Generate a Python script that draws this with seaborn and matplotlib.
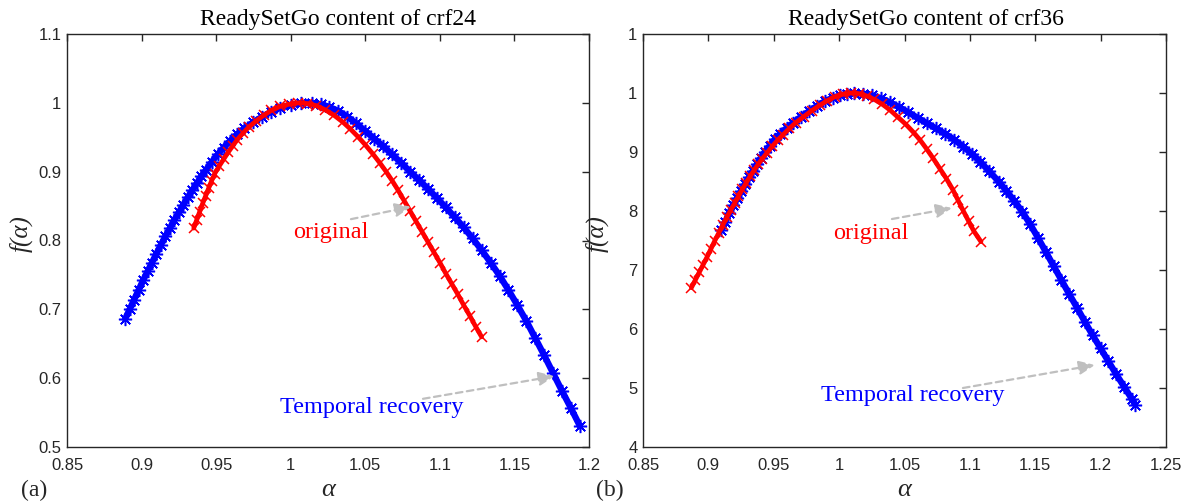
import numpy as np
import pandas as pd
import matplotlib
matplotlib.use("Agg")
import matplotlib.pyplot as plt
import seaborn as sns

sns.set_theme(style="white")
plt.rcParams['font.family'] = ['Liberation Sans', 'DejaVu Sans']

# ---------------- data ----------------
# panel (a): crf24
a24_blue_alpha = [0.889, 0.892, 0.895, 0.898, 0.901, 0.904, 0.907, 0.910, 0.913, 0.916,
                  0.919, 0.922, 0.925, 0.928, 0.931, 0.934, 0.937, 0.940, 0.943, 0.947,
                  0.951, 0.955, 0.959, 0.964, 0.969, 0.975, 0.981, 0.987, 0.993, 1.000,
                  1.007, 1.014, 1.020, 1.026, 1.032, 1.038, 1.044, 1.050, 1.056, 1.062,
                  1.068, 1.074, 1.080, 1.086, 1.092, 1.098, 1.104, 1.110, 1.116, 1.122,
                  1.128, 1.134, 1.140, 1.146, 1.152, 1.158, 1.164, 1.170, 1.176, 1.182,
                  1.188, 1.194]
a24_blue_f = [0.686, 0.700, 0.714, 0.728, 0.742, 0.755, 0.768, 0.781, 0.794, 0.806,
              0.818, 0.830, 0.841, 0.852, 0.863, 0.873, 0.883, 0.893, 0.902, 0.914,
              0.925, 0.935, 0.944, 0.954, 0.963, 0.972, 0.980, 0.987, 0.993, 0.997,
              0.9995, 0.9995, 0.998, 0.994, 0.988, 0.980, 0.970, 0.959, 0.948, 0.937,
              0.925, 0.913, 0.900, 0.888, 0.875, 0.862, 0.848, 0.834, 0.819, 0.803,
              0.786, 0.768, 0.749, 0.728, 0.706, 0.683, 0.658, 0.633, 0.607, 0.581,
              0.556, 0.530]

a24_red_alpha = [0.935, 0.937, 0.939, 0.941, 0.943, 0.945, 0.947, 0.949, 0.952, 0.955,
                 0.958, 0.961, 0.964, 0.968, 0.972, 0.977, 0.982, 0.987, 0.993, 0.999,
                 1.005, 1.011, 1.017, 1.023, 1.029, 1.035, 1.040, 1.045, 1.050, 1.055,
                 1.060, 1.064, 1.068, 1.072, 1.076, 1.080, 1.084, 1.088, 1.092, 1.096,
                 1.100, 1.104, 1.108, 1.112, 1.116, 1.120, 1.124, 1.128]
a24_red_f = [0.818, 0.830, 0.842, 0.854, 0.865, 0.876, 0.887, 0.897, 0.908, 0.918,
             0.928, 0.937, 0.946, 0.956, 0.965, 0.974, 0.982, 0.989, 0.995, 0.998,
             1.000, 0.999, 0.996, 0.990, 0.982, 0.972, 0.962, 0.951, 0.939, 0.926,
             0.912, 0.900, 0.887, 0.873, 0.858, 0.843, 0.828, 0.813, 0.798, 0.783,
             0.768, 0.752, 0.737, 0.722, 0.706, 0.691, 0.675, 0.660]

# panel (b): crf36
b36_blue_alpha = [0.910, 0.913, 0.916, 0.919, 0.922, 0.925, 0.928, 0.931, 0.934, 0.937,
                  0.940, 0.943, 0.947, 0.951, 0.955, 0.960, 0.965, 0.971, 0.977, 0.983,
                  0.989, 0.995, 1.001, 1.006, 1.011, 1.018, 1.025, 1.032, 1.039, 1.046,
                  1.053, 1.060, 1.067, 1.074, 1.081, 1.088, 1.095, 1.102, 1.108, 1.115,
                  1.122, 1.128, 1.134, 1.140, 1.146, 1.152, 1.158, 1.164, 1.170, 1.176,
                  1.182, 1.188, 1.194, 1.200, 1.206, 1.212, 1.218, 1.224, 1.2265]
b36_blue_f = [0.768, 0.782, 0.797, 0.810, 0.822, 0.834, 0.846, 0.857, 0.868, 0.879,
              0.890, 0.900, 0.911, 0.922, 0.931, 0.941, 0.950, 0.960, 0.969, 0.978,
              0.986, 0.992, 0.996, 0.999, 1.000, 0.999, 0.996, 0.991, 0.984, 0.976,
              0.967, 0.958, 0.949, 0.940, 0.931, 0.921, 0.909, 0.896, 0.883, 0.867,
              0.850, 0.834, 0.817, 0.799, 0.778, 0.755, 0.731, 0.707, 0.683, 0.659,
              0.636, 0.612, 0.589, 0.567, 0.545, 0.523, 0.502, 0.481, 0.472]

b36_red_alpha = [0.887, 0.890, 0.893, 0.896, 0.899, 0.902, 0.905, 0.908, 0.911, 0.914,
                 0.917, 0.920, 0.923, 0.926, 0.929, 0.932, 0.935, 0.938, 0.941, 0.945,
                 0.949, 0.953, 0.957, 0.962, 0.967, 0.973, 0.979, 0.985, 0.991, 0.997,
                 1.003, 1.009, 1.015, 1.021, 1.027, 1.033, 1.039, 1.045, 1.051, 1.057,
                 1.062, 1.067, 1.072, 1.077, 1.082, 1.087, 1.091, 1.095, 1.099, 1.103,
                 1.1085]
b36_red_f = [0.670, 0.683, 0.696, 0.709, 0.722, 0.736, 0.750, 0.763, 0.776, 0.789,
             0.801, 0.813, 0.825, 0.837, 0.848, 0.859, 0.869, 0.879, 0.888, 0.899,
             0.910, 0.920, 0.929, 0.940, 0.950, 0.960, 0.970, 0.979, 0.987, 0.994,
             0.998, 1.000, 0.999, 0.995, 0.989, 0.981, 0.971, 0.959, 0.947, 0.933,
             0.920, 0.905, 0.889, 0.872, 0.855, 0.836, 0.818, 0.800, 0.783, 0.766,
             0.748]

titles = ["ReadySetGo content of crf24", "ReadySetGo content of crf36"]
panel_tags = ["(a)", "(b)"]
a_xticks = [0.85, 0.9, 0.95, 1.0, 1.05, 1.1, 1.15, 1.2]
a_xticklabels = ["0.85", "0.9", "0.95", "1", "1.05", "1.1", "1.15", "1.2"]
a_yticks = [0.5, 0.6, 0.7, 0.8, 0.9, 1.0, 1.1]
a_yticklabels = ["0.5", "0.6", "0.7", "0.8", "0.9", "1", "1.1"]
b_xticks = [0.85, 0.9, 0.95, 1.0, 1.05, 1.1, 1.15, 1.2, 1.25]
b_xticklabels = ["0.85", "0.9", "0.95", "1", "1.05", "1.1", "1.15", "1.2", "1.25"]
b_yticks = [0.4, 0.5, 0.6, 0.7, 0.8, 0.9, 1.0, 1.1]
b_yticklabels = ["4", "5", "6", "7", "8", "9", "1", "1"]

# ---------------- figure ----------------
W, H = 1189, 503
fig = plt.figure(figsize=(W / 100, H / 100), dpi=100)
ax_a = fig.add_axes([67 / W, (H - 447) / H, 522 / W, 413 / H])
ax_b = fig.add_axes([643 / W, (H - 447) / H, 523 / W, 413 / H])

serif = ['Liberation Serif', 'DejaVu Serif']
BLUE = '#0000ff'
RED = '#ff0000'
ASTER = (8, 2, 0)


def draw(ax, ba, bf, ra, rf):
    sns.lineplot(x=ba, y=bf, sort=False, estimator=None, ax=ax, color=BLUE,
                 marker=ASTER, linestyle='-', linewidth=4.6, markersize=9.5,
                 markeredgewidth=1.1, markeredgecolor=BLUE)
    sns.lineplot(x=ra, y=rf, sort=False, estimator=None, ax=ax, color=RED,
                 marker='x', linestyle='-', linewidth=3.4, markersize=7.5,
                 markeredgewidth=1.1, markeredgecolor=RED)


draw(ax_a, a24_blue_alpha, a24_blue_f, a24_red_alpha, a24_red_f)
draw(ax_b, b36_blue_alpha, b36_blue_f, b36_red_alpha, b36_red_f)

ax_a.set_xlim(0.85, 1.2)
ax_a.set_ylim(0.5, 1.1)
ax_b.set_xlim(0.85, 1.25)
ax_b.set_ylim(0.4, 1.1)
ax_a.set_xticks(a_xticks, a_xticklabels)
ax_a.set_yticks(a_yticks, a_yticklabels)
ax_b.set_xticks(b_xticks, b_xticklabels)
ax_b.set_yticks(b_yticks, b_yticklabels)

for ax, title, tag, tx in [(ax_a, titles[0], panel_tags[0], 0.519),
                           (ax_b, titles[1], panel_tags[1], 0.541)]:
    for s in ax.spines.values():
        s.set_color('#262626')
        s.set_linewidth(1.0)
    ax.tick_params(axis='both', which='both', direction='in', top=True, right=True,
                   length=5, width=1.0, color='#262626', labelsize=12,
                   labelcolor='#262626')
    ax.tick_params(axis='x', pad=8)
    ax.tick_params(axis='y', pad=4)
    ax.set_xlabel('')
    ax.set_ylabel('')
    ax.grid(False)
    ax.text(tx, 1.034, title, transform=ax.transAxes, ha='center', va='center',
            fontsize=17, family=serif, color='black')
    ax.text(0.5, -0.105, 'α', transform=ax.transAxes, ha='center', va='center',
            fontsize=19, family=serif, style='italic')
    ax.text(-0.088, 0.518, 'f(α)', transform=ax.transAxes, ha='center', va='center',
            rotation=90, fontsize=18, family=serif, style='italic')
    ax.text(-0.063, -0.105, tag, transform=ax.transAxes, ha='center', va='center',
            fontsize=17, family=serif)

arrow = dict(arrowstyle='-|>,head_length=0.8,head_width=0.35', color='#bfbfbf',
             linestyle=(0, (3, 2)), linewidth=1.6, shrinkA=0, shrinkB=0)

# panel (a) annotations
ax_a.text(1.027, 0.811, 'original', color=RED, fontsize=17.5, family=serif,
          ha='center', va='center')
ax_a.annotate('', xy=(1.0807, 0.849), xytext=(1.0404, 0.831), arrowprops=arrow)
ax_a.text(1.0545, 0.558, 'Temporal recovery', color=BLUE, fontsize=17.5, family=serif,
          ha='center', va='center')
ax_a.annotate('', xy=(1.177, 0.603), xytext=(1.0887, 0.570), arrowprops=arrow)

# panel (b) annotations
ax_b.text(1.0244, 0.7627, 'original', color=RED, fontsize=17.5, family=serif,
          ha='center', va='center')
ax_b.annotate('', xy=(1.0863, 0.805), xytext=(1.0404, 0.7864), arrowprops=arrow)
ax_b.text(1.0565, 0.488, 'Temporal recovery', color=BLUE, fontsize=17.5, family=serif,
          ha='center', va='center')
ax_b.annotate('', xy=(1.1957, 0.539), xytext=(1.0947, 0.500), arrowprops=arrow)

fig.savefig('out.png', dpi=100, facecolor='white')
